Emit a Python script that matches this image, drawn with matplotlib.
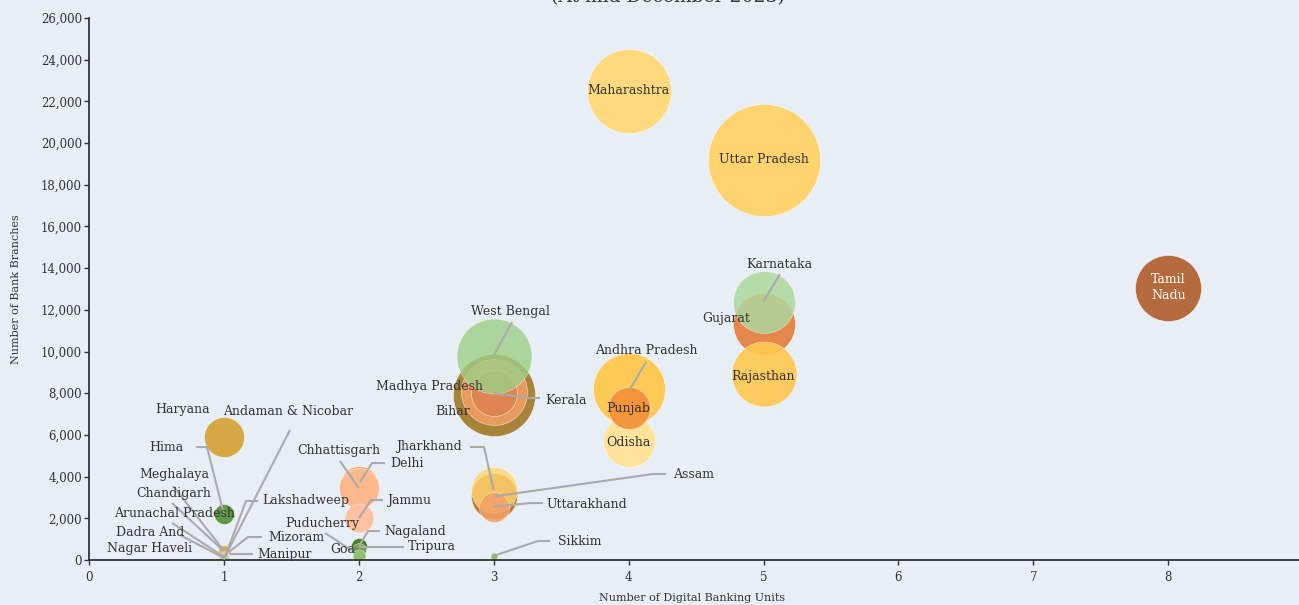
import matplotlib
matplotlib.use("Agg")
import matplotlib.pyplot as plt
from matplotlib.ticker import FuncFormatter, MultipleLocator

# ---------------- data ----------------
states = ["Uttar Pradesh", "Maharashtra", "Tamil Nadu", "Gujarat", "Karnataka", "Rajasthan",
          "Andhra Pradesh", "Odisha", "Punjab", "Bihar", "Madhya Pradesh", "Kerala",
          "West Bengal", "Assam", "Jharkhand", "Uttarakhand", "Sikkim", "Delhi",
          "Chhattisgarh", "Jammu", "Puducherry", "Nagaland", "Tripura", "Goa",
          "Haryana", "Himachal Pradesh", "Meghalaya", "Chandigarh", "Mizoram", "Manipur",
          "Arunachal Pradesh", "Dadra And Nagar Haveli", "Andaman & Nicobar", "Lakshadweep"]
digital_units = [5, 4, 8, 5, 5, 5,
                 4, 4, 4, 3, 3, 3,
                 3, 3, 3, 3, 3, 2,
                 2, 2, 2, 2, 2, 2,
                 1, 1, 1, 1, 1, 1,
                 1, 1, 1, 1]
bank_branches = [19200, 22500, 13050, 11300, 12400, 8900,
                 8200, 5700, 7300, 7900, 8050, 8000,
                 9800, 3050, 3350, 2550, 200, 3600,
                 3450, 2000, 300, 650, 500, 200,
                 5900, 2200, 450, 420, 200, 220,
                 150, 100, 60, 15]
bubble_size = [56, 42, 33, 31, 31, 32.5,
               36, 26, 21, 41, 33, 23,
               37.5, 23, 23, 15, 3.5, 19,
               20, 14.5, 5, 8, 7, 6.5,
               20, 10, 6, 5, 4, 4.5,
               5, 5, 3, 2]
x_ticks = [0, 1, 2, 3, 4, 5, 6, 7, 8]
title_text = "(At mid December 2023)"
x_label = "Number of Digital Banking Units"
y_label = "Number of Bank Branches"

# ---------------- styles ----------------
colors = {
    "Uttar Pradesh": "#FFD36E", "Maharashtra": "#FFD97E", "Tamil Nadu": "#B46A3C",
    "Gujarat": "#E5874A", "Karnataka": "#ADD89C", "Rajasthan": "#FFC84F",
    "Andhra Pradesh": "#FFC955", "Odisha": "#FFE39A", "Punjab": "#F4923A",
    "Bihar": "#A8843A", "Madhya Pradesh": "#E99A5E", "Kerala": "#DD8450",
    "West Bengal": "#9DCF88", "Assam": "#C07D3A", "Jharkhand": "#FFD46E",
    "Uttarakhand": "#F2A065", "Sikkim": "#8CBF6E", "Delhi": "#F9A878",
    "Chhattisgarh": "#FFB88C", "Jammu": "#FFC1A0", "Puducherry": "#F7B070",
    "Nagaland": "#4D7F30", "Tripura": "#6A9E50", "Goa": "#8CC070",
    "Haryana": "#D6A844", "Himachal Pradesh": "#5E9A45", "Meghalaya": "#E0823F",
    "Chandigarh": "#D9A944", "Mizoram": "#F7C15A", "Manipur": "#F0B060",
    "Arunachal Pradesh": "#F3A34D", "Dadra And Nagar Haveli": "#A6D38F",
    "Andaman & Nicobar": "#9CCB84", "Lakshadweep": "#8CC070",
}
alphas = {"West Bengal": 0.8, "Karnataka": 0.85, "Jharkhand": 0.8, "Uttarakhand": 0.85,
          "Rajasthan": 0.9, "Punjab": 0.95}

BG = "#E8EEF5"
TXT = "#333333"
LINE = "#AAAAAA"
FONT = "DejaVu Serif"

# label layout: text, text offset (px, y down), ha, leader path offsets (px, y down)
labels = {
    "Uttar Pradesh": ("Uttar Pradesh", (0, 0), "center", None),
    "Maharashtra": ("Maharashtra", (0, 0), "center", None),
    "Tamil Nadu": ("Tamil\nNadu", (0, 0), "center", None),
    "Karnataka": ("Karnataka", (15.5, -37.5), "center", [(0, 0), (16.5, -27.5)]),
    "Gujarat": ("Gujarat", (-37.5, -6.4), "center", None),
    "Rajasthan": ("Rajasthan", (0, 2), "center", None),
    "Andhra Pradesh": ("Andhra Pradesh", (17.4, -39), "center", [(1.4, 0), (17.4, -27)]),
    "Punjab": ("Punjab", (0, 1), "center", None),
    "Odisha": ("Odisha", (0, 1), "center", None),
    "West Bengal": ("West Bengal", (16.3, -44.7), "center", [(0, 0), (18.3, -33.7)]),
    "Madhya Pradesh": ("Madhya Pradesh", (-10.7, -5.2), "right", None),
    "Kerala": ("Kerala", (51.3, 6.8), "left", [(0, 0), (36.3, 4.8), (46.3, 4.8)]),
    "Bihar": ("Bihar", (-40.7, 15.7), "center", None),
    "Jharkhand": ("Jharkhand", (-31.7, -43.2), "right", [(0, 0), (-9.7, -43.2), (-23.7, -43.2)]),
    "Assam": ("Assam", (179.3, -22.4), "left", [(0, 0), (159.3, -22.4), (172.3, -22.4)]),
    "Uttarakhand": ("Uttarakhand", (52.3, -2.8), "left", [(0, 0), (36.3, -3.8), (49.3, -3.8)]),
    "Sikkim": ("Sikkim", (64.3, -14.8), "left", [(0, 0), (44.3, -14.8), (56.3, -14.8)]),
    "Chhattisgarh": ("Chhattisgarh", (-19.8, -37.1), "center", [(0, 0), (-18.8, -27.1)]),
    "Delhi": ("Delhi", (31.2, -21.9), "left", [(1.2, -3), (13.2, -21.9), (26.2, -21.9)]),
    "Jammu": ("Jammu", (28.2, -18.3), "left", [(0, 0), (12.2, -18.3), (24.2, -18.3)]),
    "Puducherry": ("Puducherry", (-36.8, -30.7), "center", [(-5, -2), (-33.8, -20.7)]),
    "Goa": ("Goa", (-3.8, -6.8), "right", None),
    "Nagaland": ("Nagaland", (25.2, -15.4), "left", [(0, 0), (9.2, -15.4), (21.2, -15.4)]),
    "Tripura": ("Tripura", (49.2, -2.6), "left", [(0, -2.6), (45.2, -2.6)]),
    "Haryana": ("Haryana", (-40.9, -28), "center", None),
    "Himachal Pradesh": ("Hima", (-39.9, -67.1), "right", [(0, 0), (-16.9, -67.1), (-27.9, -67.1)]),
    "Andaman & Nicobar": ("Andaman & Nicobar", (64.1, -147.7), "center", [(0, 0), (66.1, -128.7)]),
    "Meghalaya": ("Meghalaya", (-49.9, -75.7), "center", [(0, 0), (-50.9, -64.7)]),
    "Chandigarh": ("Chandigarh", (-49.9, -58.2), "center", [(0, 0), (-51.9, -48.2)]),
    "Arunachal Pradesh": ("Arunachal Pradesh", (-48.9, -42.9), "center", [(0, 0), (-51.9, -33.9)]),
    "Dadra And Nagar Haveli": ("Dadra And\nNagar Haveli", (-73.9, -17.9), "center", [(0, 0), (-44, -23)]),
    "Lakshadweep": ("Lakshadweep", (38.1, -58.7), "left", [(0, 0), (22.1, -58.7), (34.1, -58.7)]),
    "Mizoram": ("Mizoram", (44.1, -18.8), "left", [(0, 0), (24.1, -18.8), (38.1, -18.8)]),
    "Manipur": ("Manipur", (33.1, -1.4), "left", [(6, -1.4), (29.1, -1.4)]),
}

# ---------------- figure ----------------
W, H = 1299, 605
fig = plt.figure(figsize=(W / 100, H / 100), dpi=100, facecolor=BG)
ax = fig.add_axes([89 / W, 1 - 560 / H, (W - 89) / W, 542 / H], facecolor=BG)
ax.set_xlim(0, (W - 89) / 134.9)
ax.set_ylim(0, 26000)

for s in ["top", "right"]:
    ax.spines[s].set_visible(False)
for s in ["left", "bottom"]:
    ax.spines[s].set_color(TXT)
    ax.spines[s].set_linewidth(1.3)

ax.set_xticks(x_ticks)
ax.yaxis.set_major_locator(MultipleLocator(2000))
ax.yaxis.set_major_formatter(FuncFormatter(lambda v, p: f"{int(v):,}"))
ax.tick_params(axis="both", direction="out", length=3.5, width=1, color=TXT,
               labelcolor=TXT, labelsize=8.5)
ax.tick_params(axis="y", pad=1.5)
ax.tick_params(axis="x", pad=4.5)
for lab in ax.get_xticklabels() + ax.get_yticklabels():
    lab.set_fontfamily(FONT)

# bubbles
for st, xv, yv, b in zip(states, digital_units, bank_branches, bubble_size):
    d_pt = 2 * b * 0.72
    ax.scatter([xv], [yv], s=d_pt ** 2, color=colors[st], alpha=alphas.get(st, 1.0),
               edgecolors="white", linewidths=0.3, zorder=2)

# labels + leader lines
fig.canvas.draw()
to_disp = ax.transData
to_data = ax.transData.inverted()


def off(xv, yv, dx, dy):
    px, py = to_disp.transform((xv, yv))
    return to_data.transform((px + dx, py - dy))


for st, xv, yv in zip(states, digital_units, bank_branches):
    if st not in labels:
        continue
    text, (tx, ty), ha, path = labels[st]
    if path:
        pts = [off(xv, yv, dx, dy) for dx, dy in path]
        ax.plot([p[0] for p in pts], [p[1] for p in pts], color=LINE, lw=1.5,
                zorder=3, solid_capstyle="butt")
    lx, ly = off(xv, yv, tx, ty)
    col = "white" if st == "Tamil Nadu" else TXT
    ax.text(lx, ly, text, ha=ha, va="center", fontsize=9, family=FONT, color=col,
            zorder=4, linespacing=1.3)

# title (cut at the top edge, as in the reference) and axis labels
fig.text(668 / W, 1 - 2 / H, title_text, ha="center", va="baseline", fontsize=13.5,
         family=FONT, color=TXT)
fig.text(692 / W, 1 - 598 / H, x_label, ha="center", va="center", fontsize=8,
         family=FONT, color=TXT)
fig.text(16 / W, 1 - 289 / H, y_label, ha="center", va="center", rotation=90,
         fontsize=8, family=FONT, color=TXT)

fig.savefig("out.png", dpi=100, facecolor=BG)
